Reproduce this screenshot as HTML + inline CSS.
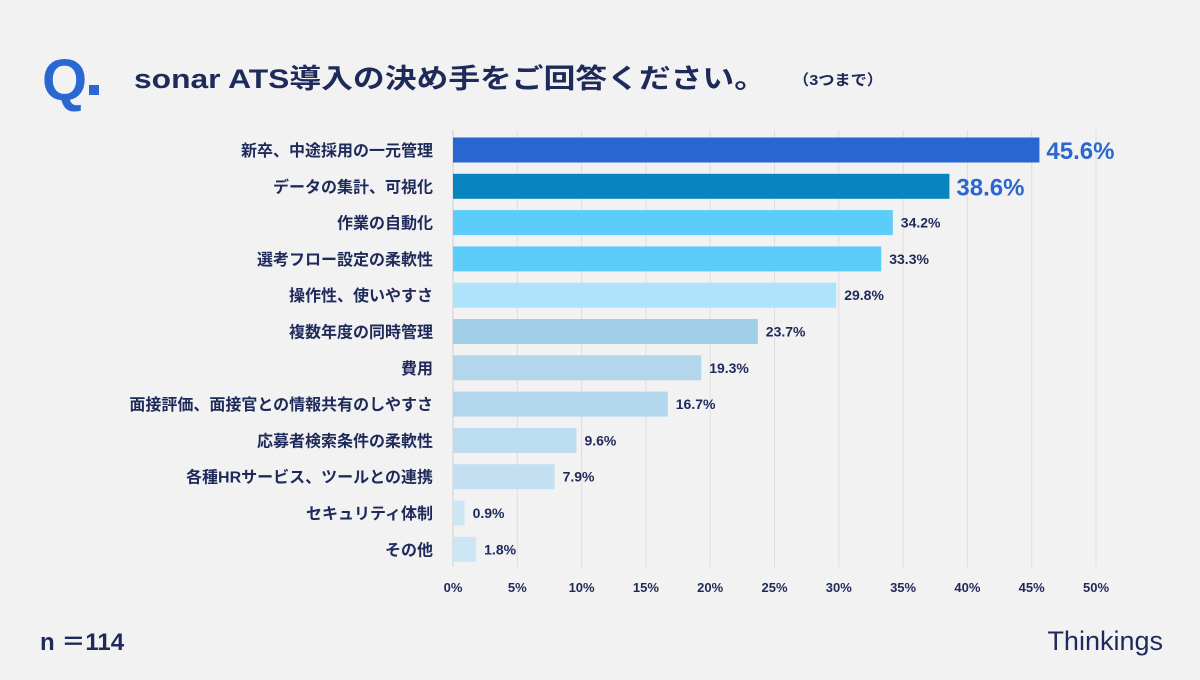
<!DOCTYPE html>
<html><head><meta charset="utf-8"><style>
body{margin:0;width:1200px;height:675px;background:#f2f2f2;overflow:hidden;font-family:"Liberation Sans","Noto Sans CJK JP",sans-serif;}
</style></head><body>
<svg width="1200" height="675" viewBox="0 0 1200 675" xmlns="http://www.w3.org/2000/svg" style="font-family:'Liberation Sans','Noto Sans CJK JP',sans-serif">
<text x="42" y="100" font-size="58" font-weight="700" fill="#2a67d1">Q</text>
<rect x="89" y="85" width="10" height="10" fill="#2a67d1"/>
<text x="134" y="88" font-size="27" font-weight="700" fill="#1e2a5a" textLength="632" lengthAdjust="spacingAndGlyphs">sonar ATS導入の決め手をご回答ください。</text>
<text x="793" y="85" font-size="15" font-weight="700" fill="#1e2a5a" textLength="90" lengthAdjust="spacingAndGlyphs">（3つまで）</text>
<g id="grid"></g>
<g id="bars"></g>
<g id="xticks"></g>
<text x="40" y="650" font-size="24" font-weight="700" fill="#1e2a5a">n ＝114</text>
<text x="1163" y="650" font-size="27" fill="#1e2a5a" text-anchor="end">Thinkings</text>
</svg>
<script>
const categories=["新卒、中途採用の一元管理","データの集計、可視化","作業の自動化","選考フロー設定の柔軟性","操作性、使いやすさ","複数年度の同時管理","費用","面接評価、面接官との情報共有のしやすさ","応募者検索条件の柔軟性","各種HRサービス、ツールとの連携","セキュリティ体制","その他"];
const values=[45.6,38.6,34.2,33.3,29.8,23.7,19.3,16.7,9.6,7.9,0.9,1.8];
const colors=["#2867cf","#0884bf","#5ccdfb","#5ccdfb","#aee4fb","#a1cfe8","#b2d7ed","#b2d7ed","#bcdcef","#c2e0f1","#cde6f4","#cde6f4"];
const tickValues=[0,5,10,15,20,25,30,35,40,45,50];
const ns="http://www.w3.org/2000/svg";
const x0=453,x1=1096,xMax=50;
const xs=v=>x0+(x1-x0)*v/xMax;
const ys=i=>150+i*36.3;
function mk(t,a,p){const e=document.createElementNS(ns,t);for(const k in a)e.setAttribute(k,a[k]);p.appendChild(e);return e;}
const grid=document.getElementById('grid'),bars=document.getElementById('bars'),xt=document.getElementById('xticks');
tickValues.forEach(v=>{
 const l=mk('line',{x1:xs(v),x2:xs(v),y1:130,y2:567,stroke:v===0?'#d0d0d0':'#dedede','stroke-width':1},grid);
 
 
 const t=mk('text',{x:xs(v),y:592,'font-size':13,'font-weight':700,fill:'#1e2a5a','text-anchor':'middle'},xt);
 t.textContent=v+'%';
 
 
});
categories.forEach((c,i)=>{
 const y=ys(i);
 const lab=mk('text',{x:433,y:y+6,'font-size':16,'font-weight':700,fill:'#1e2a5a','text-anchor':'end'},bars);
 lab.textContent=c;
 
 
 const r=mk('rect',{x:x0,y:y-12.5,width:xs(values[i])-x0,height:25,fill:colors[i]},bars);
 
 
 const big=i<2;
 const vt=mk('text',{x:xs(values[i])+(big?7:8),y:y+(big?9:5),'font-size':big?24:14,'font-weight':700,fill:big?'#2a67d1':'#1e2a5a'},bars);
 vt.textContent=values[i].toFixed(1)+'%';
 
 
});
</script>
</body></html>
